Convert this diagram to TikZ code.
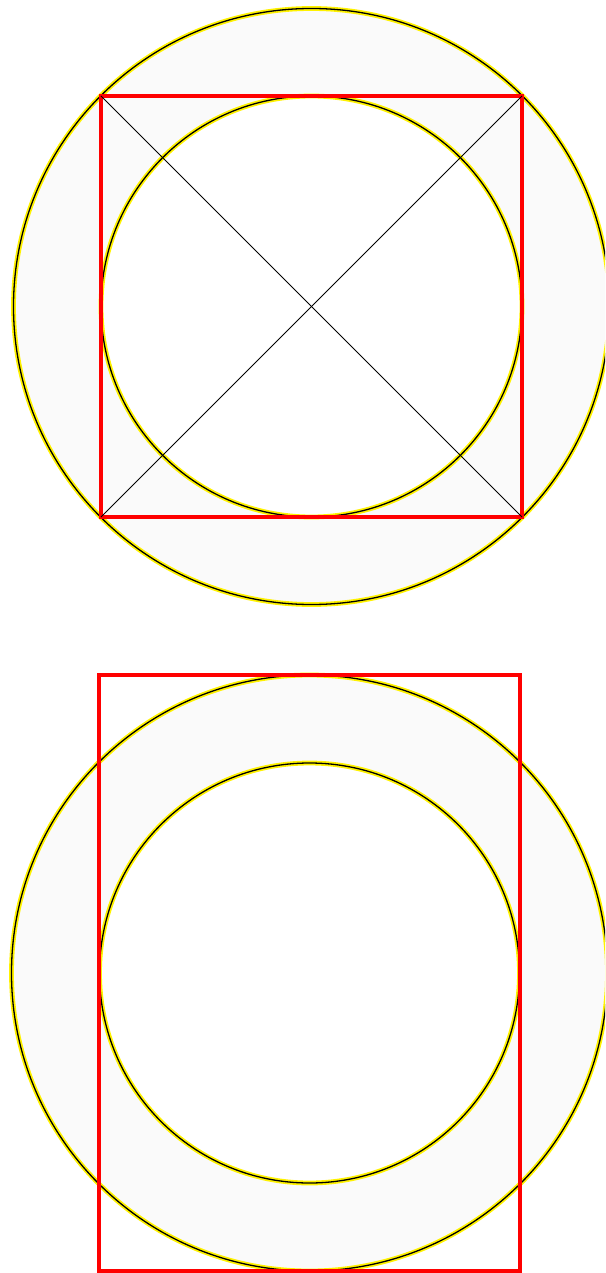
\documentclass[tikz,border=0pt]{standalone}
\definecolor{ringfill}{HTML}{FAFAFA}
\tikzset{
  ringarea/.style={fill=ringfill,even odd rule,draw=none},
  circyellow/.style={draw=yellow,line width=4.8pt},
  circblack/.style={draw=black,line width=1.3pt},
  redbox/.style={draw=red,line width=3.6pt},
  diag/.style={draw=black,line width=0.9pt}
}
\begin{document}
\begin{tikzpicture}[x=1pt,y=-1pt]
\useasboundingbox (0,0) rectangle (605,1273);
\clip (0,0) rectangle (605,1273);
% top figure
\coordinate (c1) at (311.5,306.5);
\coordinate (a1) at (101,96);
\coordinate (b1) at (522,96);
\coordinate (d1) at (522,517);
\coordinate (e1) at (101,517);
\path[ringarea] (c1) circle[radius=298] (c1) circle[radius=210.5];
\draw[circyellow] (c1) circle[radius=298];
\draw[circblack] (c1) circle[radius=298];
\draw[circyellow] (c1) circle[radius=210.5];
\draw[circblack] (c1) circle[radius=210.5];
\draw[redbox] (a1) rectangle (d1);
\draw[diag] (a1) -- (d1);
\draw[diag] (b1) -- (e1);
% bottom figure
\coordinate (c2) at (309.5,973);
\coordinate (a2) at (99,675);
\coordinate (d2) at (520,1271);
\path[ringarea] (c2) circle[radius=298] (c2) circle[radius=210];
\draw[circyellow] (c2) circle[radius=298];
\draw[circblack] (c2) circle[radius=298];
\draw[circyellow] (c2) circle[radius=210];
\draw[circblack] (c2) circle[radius=210];
\draw[redbox] (a2) rectangle (d2);
\end{tikzpicture}
\end{document}
